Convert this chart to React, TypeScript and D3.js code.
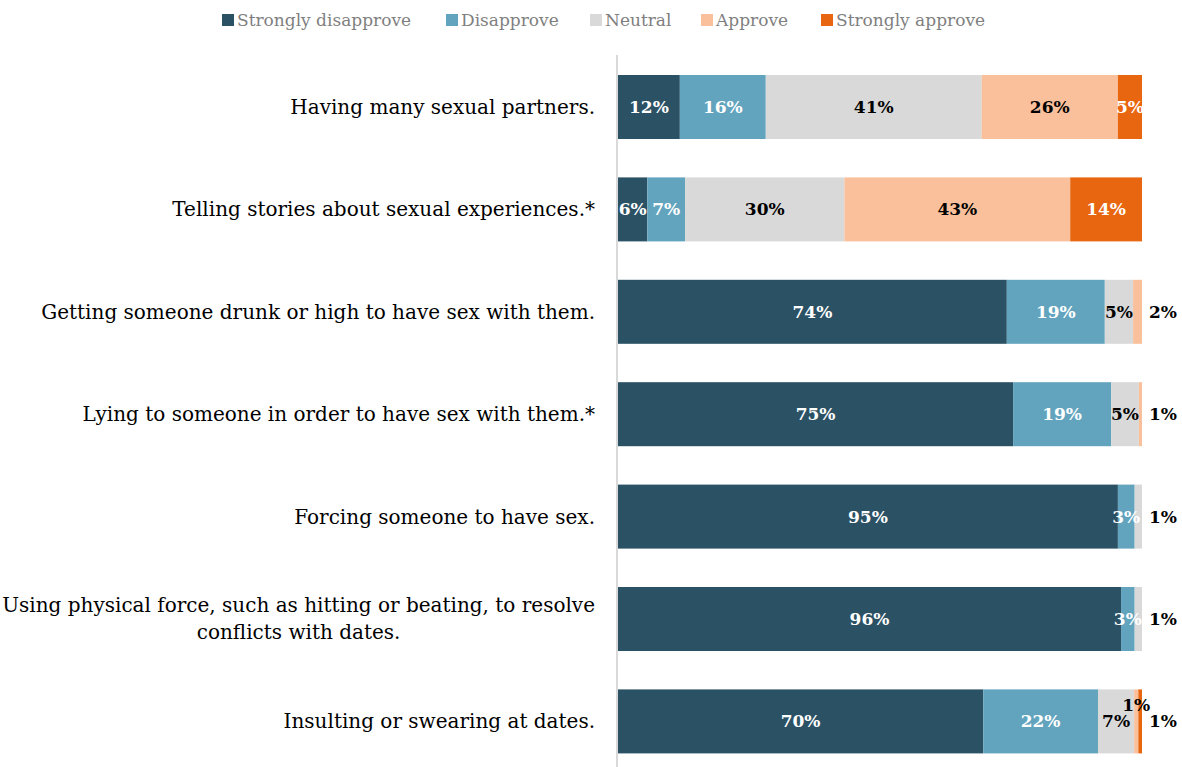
import React, { useEffect, useRef } from "react";
import * as d3 from "d3";

const categories = [
  "Having many sexual partners.",
  "Telling stories about sexual experiences.*",
  "Getting someone drunk or high to have sex with them.",
  "Lying to someone in order to have sex with them.*",
  "Forcing someone to have sex.",
  "Using physical force, such as hitting or beating, to resolve|conflicts with dates.",
  "Insulting or swearing at dates.",
];

const seriesNames = ["Strongly disapprove", "Disapprove", "Neutral", "Approve", "Strongly approve"];
const stronglyDisapprove = [11.8, 5.6, 74.2, 75.4, 95.4, 96.0, 69.7];
const disapprove = [16.4, 7.2, 18.7, 18.7, 3.2, 2.6, 21.9];
const neutral = [41.2, 30.4, 5.4, 5.3, 1.4, 1.4, 6.9];
const approve = [26.0, 43.1, 1.7, 0.6, 0, 0, 0.8];
const stronglyApprove = [4.6, 13.7, 0, 0, 0, 0, 0.7];

const colors = ["#2b5164", "#62a4be", "#d9d9d9", "#f9c09b", "#e8660f"];
const labelColors = ["#ffffff", "#ffffff", "#000000", "#000000", "#ffffff"];

const W = 1182;
const H = 767;

export default function App() {
  const ref = useRef<SVGSVGElement | null>(null);

  useEffect(() => {
    const svg = d3.select(ref.current);
    svg.selectAll("*").remove();
    const series = [stronglyDisapprove, disapprove, neutral, approve, stronglyApprove];
    const rows = categories.map((c, i) => {
      const o: any = { cat: c };
      seriesNames.forEach((s, k) => (o[s] = series[k][i]));
      return o;
    });
    const stack = d3.stack<any>().keys(seriesNames)(rows);

    const x = d3.scaleLinear().domain([0, 100]).range([618, 1142]);
    const y = d3
      .scaleBand<string>()
      .domain(categories)
      .range([55.8, 772.6])
      .paddingInner(0.375)
      .paddingOuter(0.1875);

    const font = "'DejaVu Serif', serif";

    svg
      .append("line")
      .attr("x1", 617)
      .attr("x2", 617)
      .attr("y1", 55)
      .attr("y2", H)
      .attr("stroke", "#d9d9d9")
      .attr("stroke-width", 2);

    stack.forEach((layer, k) => {
      svg
        .append("g")
        .selectAll("rect")
        .data(layer)
        .join("rect")
        .attr("x", (d) => x(d[0]))
        .attr("width", (d) => Math.max(0, x(d[1]) - x(d[0])))
        .attr("y", (d: any) => y(d.data.cat)!)
        .attr("height", y.bandwidth())
        .attr("fill", colors[k]);
    });

    const lab = svg.append("g").attr("font-family", font).attr("font-weight", "bold").attr("font-size", 17);
    categories.forEach((c, i) => {
      const segs = stack
        .map((layer, k) => ({ k, v: series[k][i], a: layer[i][0], b: layer[i][1] }))
        .filter((s) => s.v > 0);
      const small = segs.filter((s) => s.v < 2.5);
      const lastSmall = small.length ? small[small.length - 1] : null;
      const cy = y(c)! + y.bandwidth() / 2;
      segs.forEach((s) => {
        let tx = (x(s.a) + x(s.b)) / 2;
        let ty = cy;
        let fill = labelColors[s.k];
        if (s === lastSmall) {
          tx = x(100) + 21;
          fill = "#000";
        } else if (s.v < 2.5) {
          ty = cy - 16;
          fill = "#000";
        }
        lab
          .append("text")
          .attr("x", tx)
          .attr("y", ty)
          .attr("text-anchor", "middle")
          .attr("dominant-baseline", "central")
          .attr("fill", fill)
          .text(Math.round(s.v) + "%");
      });
    });

    const cl = svg.append("g").attr("font-family", font).attr("font-size", 20).attr("fill", "#000");
    categories.forEach((c) => {
      const lines = c.split("|");
      const cy = y(c)! + y.bandwidth() / 2;
      if (lines.length === 1) {
        cl.append("text").attr("x", 595).attr("y", cy).attr("text-anchor", "end").attr("dominant-baseline", "central").text(c);
      } else {
        const t1 = cl
          .append("text")
          .attr("x", 595)
          .attr("y", cy - 14)
          .attr("text-anchor", "end")
          .attr("dominant-baseline", "central")
          .text(lines[0]);
        const w = (t1.node() as SVGTextElement).getComputedTextLength();
        cl.append("text")
          .attr("x", 595 - w / 2)
          .attr("y", cy + 13)
          .attr("text-anchor", "middle")
          .attr("dominant-baseline", "central")
          .text(lines[1]);
      }
    });

    const legendX = [222, 446, 590, 701, 821];
    const lg = svg.append("g").attr("font-family", font).attr("font-size", 17).attr("fill", "#7f7f7f");
    seriesNames.forEach((s, k) => {
      lg.append("rect").attr("x", legendX[k]).attr("y", 14).attr("width", 12).attr("height", 12).attr("fill", colors[k]);
      lg.append("text").attr("x", legendX[k] + 15).attr("y", 20).attr("dominant-baseline", "central").text(s);
    });
  }, []);

  return (
    <svg
      ref={ref}
      width={W}
      height={H}
      style={{ position: "absolute", left: 0, top: 0, background: "#fff" }}
    />
  );
}
